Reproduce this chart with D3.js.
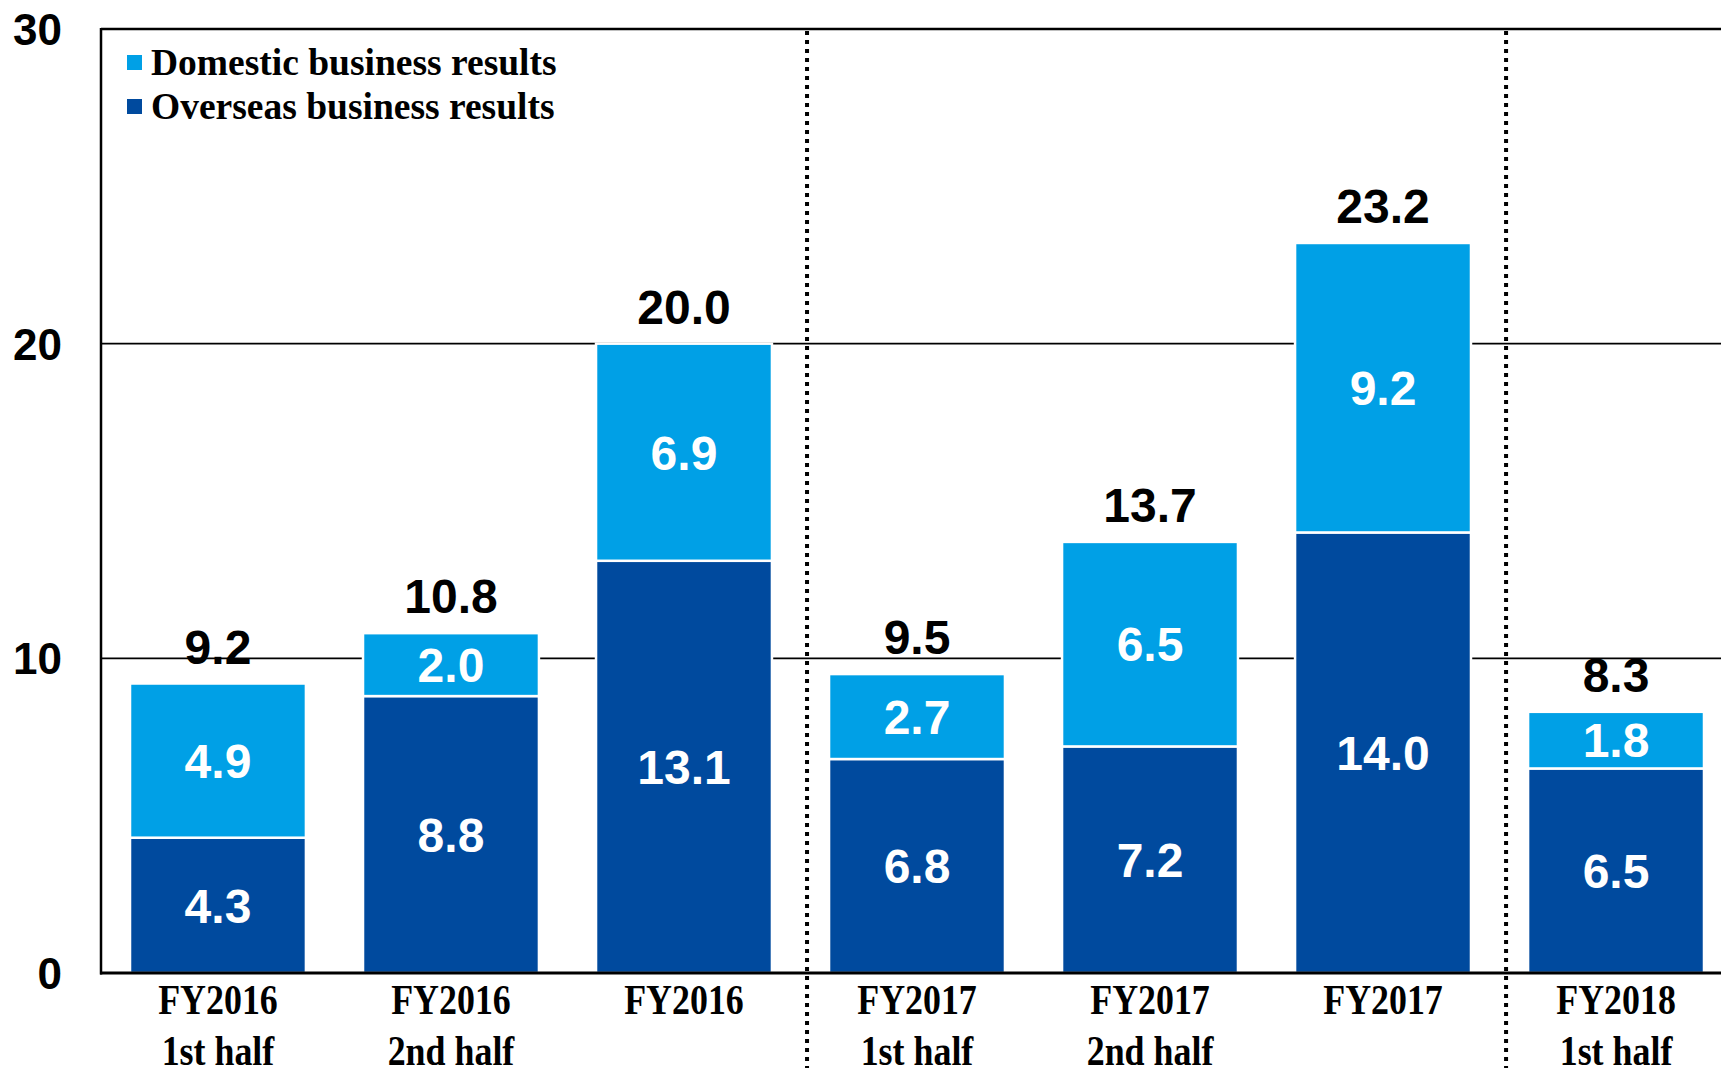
<!DOCTYPE html>
<html>
<head>
<meta charset="utf-8">
<script src="https://cdn.jsdelivr.net/npm/d3@7"></script>
<style>
  body { margin: 0; background: #fff; }
  svg { display: block; }
</style>
</head>
<body>
<div id="chart"></div>
<script>
// data
const periods = ["FY2016", "FY2016", "FY2016", "FY2017", "FY2017", "FY2017", "FY2018"];
const halves = ["1st half", "2nd half", "", "1st half", "2nd half", "", "1st half"];
const overseas = [4.3, 8.8, 13.1, 6.8, 7.2, 14.0, 6.5];
const domestic = [4.9, 2.0, 6.9, 2.7, 6.5, 9.2, 1.8];
const totals = [9.2, 10.8, 20.0, 9.5, 13.7, 23.2, 8.3];
const yTicks = [0, 10, 20, 30];
const dividers = [3, 6]; // dotted line before these bars

const width = 1721, height = 1068;
const lightBlue = "#00a0e6", darkBlue = "#004a9e";
const sans = "'Liberation Sans', Arial, sans-serif";
const serif = "'Liberation Serif', 'Times New Roman', serif";

const svg = d3.select("#chart").append("svg")
    .attr("width", width)
    .attr("height", height);

const keys = d3.range(periods.length);

// scales
const x = d3.scaleBand()
    .domain(keys)
    .range([101, 1733])
    .paddingInner(0.245)
    .paddingOuter(0.1245);

const y = d3.scaleLinear()
    .domain([0, 30])
    .range([973, 29]);

// gridlines (10, 20) and top border (30)
svg.append("g")
    .selectAll("line")
    .data(yTicks.filter(d => d > 0))
    .enter().append("line")
    .attr("x1", 101).attr("x2", width)
    .attr("y1", d => y(d)).attr("y2", d => y(d))
    .attr("stroke", "#000")
    .attr("stroke-width", d => d === 30 ? 2.5 : 1.8);

// dotted separators
svg.append("g")
    .selectAll("line")
    .data(dividers)
    .enter().append("line")
    .attr("x1", d => x(d) - 22).attr("x2", d => x(d) - 22)
    .attr("y1", y(30) + 2).attr("y2", height)
    .attr("stroke", "#000")
    .attr("stroke-width", 4)
    .attr("stroke-dasharray", "4 5");

// stacked bars
const rows = keys.map(i => ({ i: i, overseas: overseas[i], domestic: domestic[i] }));
const stack = d3.stack().keys(["overseas", "domestic"]);
const series = stack(rows);
const color = d3.scaleOrdinal()
    .domain(["overseas", "domestic"])
    .range([darkBlue, lightBlue]);

const layer = svg.selectAll(".layer")
    .data(series)
    .enter().append("g")
    .attr("class", "layer")
    .attr("fill", d => color(d.key));

layer.selectAll("rect")
    .data(d => d)
    .enter().append("rect")
    .attr("x", d => x(d.data.i))
    .attr("y", d => y(d[1]))
    .attr("width", x.bandwidth())
    .attr("height", d => y(d[0]) - y(d[1]))
    .attr("stroke", "#fff")
    .attr("stroke-width", 2.5);

// labels inside the segments
layer.selectAll("text")
    .data(d => d.map(p => ({ p: p, key: d.key })))
    .enter().append("text")
    .attr("x", d => x(d.p.data.i) + x.bandwidth() / 2)
    .attr("y", d => (y(d.p[0]) + y(d.p[1])) / 2)
    .attr("dy", "0.36em")
    .attr("text-anchor", "middle")
    .attr("fill", "#fff")
    .style("font-family", sans)
    .style("font-weight", "bold")
    .style("font-size", "48px")
    .text(d => d.p.data[d.key].toFixed(1));

// totals above bars
svg.append("g")
    .selectAll("text")
    .data(keys)
    .enter().append("text")
    .attr("x", i => x(i) + x.bandwidth() / 2)
    .attr("y", i => y(totals[i]) - 20)
    .attr("text-anchor", "middle")
    .attr("fill", "#000")
    .style("font-family", sans)
    .style("font-weight", "bold")
    .style("font-size", "48px")
    .text(i => totals[i].toFixed(1));

// left axis line and baseline
svg.append("line")
    .attr("x1", 101).attr("x2", 101)
    .attr("y1", y(30) - 1).attr("y2", y(0) + 1.5)
    .attr("stroke", "#000").attr("stroke-width", 2.5);
svg.append("line")
    .attr("x1", 100).attr("x2", width)
    .attr("y1", y(0)).attr("y2", y(0))
    .attr("stroke", "#000").attr("stroke-width", 3);

// y tick labels
svg.append("g")
    .selectAll("text")
    .data(yTicks)
    .enter().append("text")
    .attr("x", 62)
    .attr("y", d => y(d))
    .attr("dy", "0.36em")
    .attr("text-anchor", "end")
    .style("font-family", sans)
    .style("font-weight", "bold")
    .style("font-size", "44px")
    .text(d => d);

// category labels (two lines), a little taller than wide like the original
const cat = svg.append("g")
    .selectAll("g")
    .data(keys)
    .enter().append("g")
    .attr("transform", i => "translate(" + (x(i) + x.bandwidth() / 2) + ",0)");

cat.append("text")
    .attr("transform", "translate(0,1014) scale(0.97,1.12)")
    .attr("text-anchor", "middle")
    .style("font-family", serif)
    .style("font-weight", "bold")
    .style("font-size", "37px")
    .text(i => periods[i]);

cat.append("text")
    .attr("transform", "translate(0,1065) scale(0.97,1.12)")
    .attr("text-anchor", "middle")
    .style("font-family", serif)
    .style("font-weight", "bold")
    .style("font-size", "37px")
    .text(i => halves[i]);

// legend
const legendItems = [
    { label: "Domestic business results", color: lightBlue },
    { label: "Overseas business results", color: darkBlue }
];
const legend = svg.append("g")
    .selectAll("g")
    .data(legendItems)
    .enter().append("g")
    .attr("transform", (d, i) => "translate(127," + (63 + i * 44) + ")");

legend.append("rect")
    .attr("x", 0).attr("y", -8)
    .attr("width", 15).attr("height", 15)
    .attr("fill", d => d.color);

legend.append("text")
    .attr("x", 24)
    .attr("y", 12)
    .style("font-family", serif)
    .style("font-weight", "bold")
    .style("font-size", "37.5px")
    .text(d => d.label);
</script>
</body>
</html>
